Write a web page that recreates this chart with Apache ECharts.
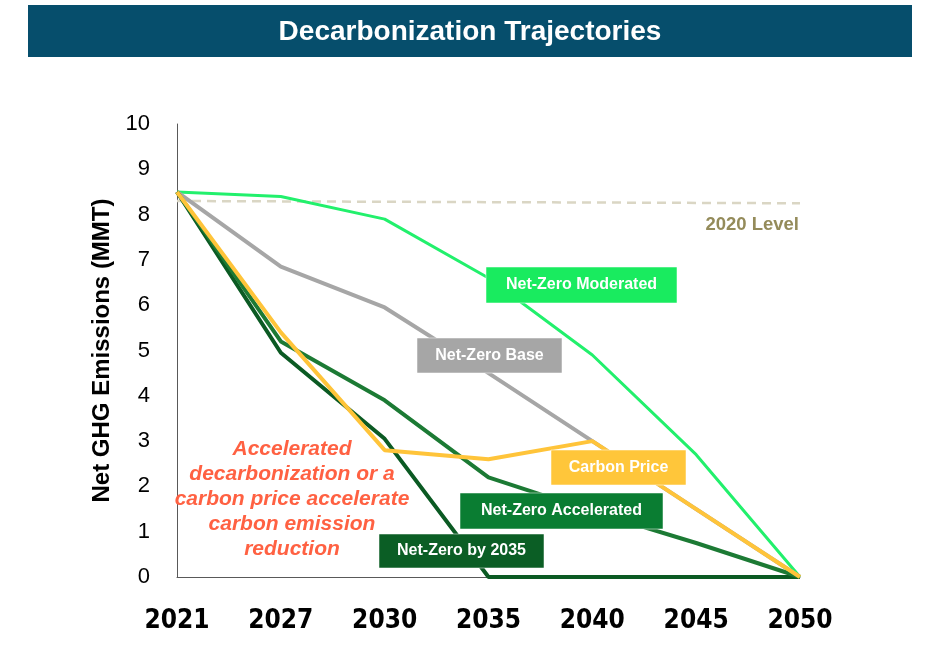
<!DOCTYPE html>
<html><head><meta charset="utf-8">
<script src="https://cdn.jsdelivr.net/npm/echarts@6/dist/echarts.min.js"></script>
<style>html,body{margin:0;padding:0;background:#fff}#c{width:925px;height:648px}</style>
</head><body><div id="c"></div>
<script>
const years = ['2021','2027','2030','2035','2040','2045','2050'];
const yTicks = [0,1,2,3,4,5,6,7,8,9,10];
const netZeroModerated = [8.5, 8.4, 7.9, 6.6, 4.9, 2.7, 0];
const netZeroBase = [8.5, 6.85, 5.95, 4.5, 3.0, 1.5, 0];
const carbonPrice = [8.5, 5.4, 2.8, 2.6, 3.0, 1.5, 0];
const netZeroAccelerated = [8.5, 5.2, 3.9, 2.2, 1.45, 0.75, 0];
const netZeroBy2035 = [8.5, 4.95, 3.05, 0, 0, 0, 0];
const level2020 = [8.3, null, null, null, null, null, 8.25];

const chart = echarts.init(document.getElementById('c'), null, {renderer:'canvas'});
function line(name, data, color, width, z){
  return {name, type:'line', data, symbol:'none', z,
    lineStyle:{color, width}, itemStyle:{color}};
}
function box(x, y, w, h, fill, text){
  return [
    {type:'rect', z:100, zlevel:1, shape:{x, y, width:w, height:h}, style:{fill, stroke:'rgba(255,255,255,0.5)', lineWidth:1}},
    {type:'text', z:101, zlevel:1, x:x+w/2, y:y+h/2, style:{text, fill:'#fff', font:'bold 16px "Liberation Sans", Arial, sans-serif', textAlign:'center', textVerticalAlign:'middle'}}
  ];
}
const annLines = ['Accelerated','decarbonization or a','carbon price accelerate','carbon emission','reduction'];
chart.setOption({
  animation:false,
  grid:{left:177, right:125, top:124, bottom:71},
  xAxis:{type:'category', data:years, boundaryGap:false,
    axisLine:{lineStyle:{color:'#595959', width:1}}, axisTick:{show:false},
    axisLabel:{color:'#000', fontWeight:'bold', fontSize:26, margin:31, fontFamily:'"Liberation Sans Narrow","DejaVu Sans Condensed",sans-serif'},
    splitLine:{show:false}},
  yAxis:{type:'value', min:0, max:10, interval:1,
    name:'Net GHG Emissions (MMT)', nameLocation:'middle', nameGap:63,
    nameTextStyle:{color:'#000', fontWeight:'bold', fontSize:24, fontFamily:'"Liberation Sans", Arial, sans-serif'},
    axisLine:{show:true, lineStyle:{color:'#595959', width:1}}, axisTick:{show:false},
    axisLabel:{color:'#000', fontSize:22, margin:27, fontFamily:'"Liberation Sans", Arial, sans-serif',
      formatter:v=> yTicks.includes(v) ? String(v) : ''},
    splitLine:{show:false}},
  series:[
    {name:'2020 Level', type:'line', data:level2020, connectNulls:true, symbol:'none', z:1,
      lineStyle:{color:'#DAD6C4', width:2.5, type:[9,6]}},
    line('Net-Zero Moderated', netZeroModerated, '#22F06C', 3, 2),
    line('Net-Zero Base', netZeroBase, '#A6A6A6', 4, 3),
    line('Net-Zero by 2035', netZeroBy2035, '#0B5A23', 4, 4),
    line('Net-Zero Accelerated', netZeroAccelerated, '#1C7A34', 4, 5),
    line('Carbon Price', carbonPrice, '#FFC43A', 4, 6)
  ],
  graphic:[
    {type:'rect', z:100, zlevel:1, shape:{x:28, y:5, width:884, height:52}, style:{fill:'#064E6C'}},
    {type:'text', z:101, zlevel:1, x:470, y:32, style:{text:'Decarbonization Trajectories', fill:'#fff', font:'bold 28px "Liberation Sans", Arial, sans-serif', textAlign:'center', textVerticalAlign:'middle'}},
    {type:'text', z:100, zlevel:1, x:799, y:225, style:{text:'2020 Level', fill:'#948B5A', font:'bold 18.5px "Liberation Sans", Arial, sans-serif', textAlign:'right', textVerticalAlign:'middle'}},
    ...box(486, 267, 191, 36, '#19EB5F', 'Net-Zero Moderated'),
    ...box(417, 338, 145, 35, '#A6A6A6', 'Net-Zero Base'),
    ...box(551, 450, 135, 35, '#FFC63A', 'Carbon Price'),
    ...box(460, 493, 203, 36, '#0A7D32', 'Net-Zero Accelerated'),
    ...box(379, 534, 165, 34, '#0B5E25', 'Net-Zero by 2035'),
    ...annLines.map((t,i)=>({type:'text', z:100, zlevel:1, x:292, y:449+i*25,
      style:{text:t, fill:'#FF6142', font:'italic bold 21px "Liberation Sans", Arial, sans-serif', textAlign:'center', textVerticalAlign:'middle'}}))
  ]
});
</script></body></html>
